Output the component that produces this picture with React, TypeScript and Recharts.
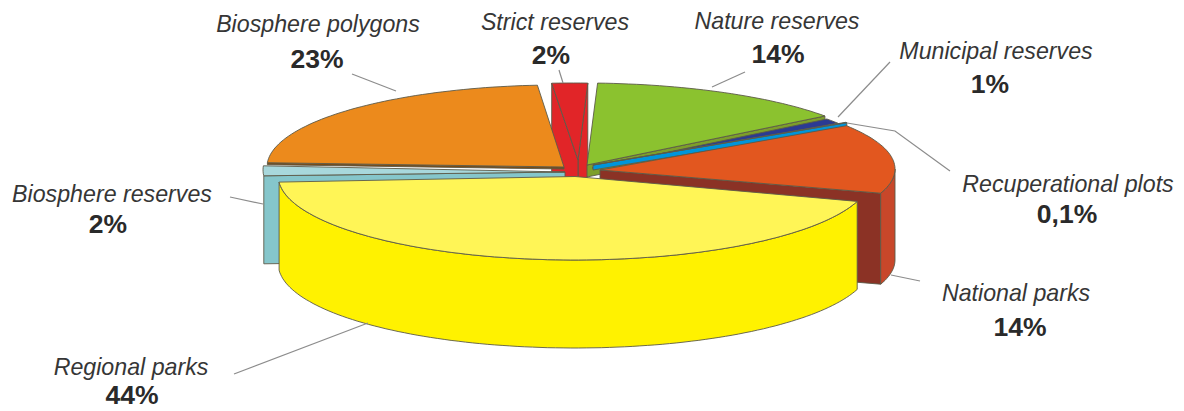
import React from "react";
import { PieChart, Pie } from "recharts";

const sliceNames = ["National parks", "Recuperational plots", "Municipal reserves", "Nature reserves", "Strict reserves", "Biosphere polygons", "Biosphere reserves", "Regional parks"];
const sliceValues = [14, 0.1, 1, 14, 2, 23, 2, 44];
const valueLabels = ["14%", "0,1%", "1%", "14%", "2%", "23%", "2%", "44%"];

const rows = sliceNames.map((name, i) => ({ name, value: sliceValues[i], text: valueLabels[i] }));

const W = 1184;
const H = 411;
const FIRST_ANGLE = -17.6;
const paintOrder = ["Strict reserves", "Biosphere polygons", "Biosphere reserves", "Nature reserves", "Municipal reserves", "Recuperational plots", "National parks", "Regional parks"];
const EDGE = "#5c5a48";

type Wall = { edge: "start" | "end"; depth: number; fill: string };
type Look = { cx: number; cy: number; rx: number; ry: number; ax: number; ay: number; top: string; walls: Wall[]; arcDepth?: number; arcFill?: string };

const looks: Record<string, Look> = {
  "National parks": { cx: 590, cy: 169, rx: 305, ry: 80, ax: 600, ay: 170, top: "#e2571f", walls: [{ edge: "start", depth: 91, fill: "#8b3225" }], arcDepth: 91, arcFill: "#c8472a" },
  "Recuperational plots": { cx: 592, cy: 166, rx: 303, ry: 80, ax: 593, ay: 165, top: "#0095da", walls: [{ edge: "start", depth: 5, fill: "#0095da" }] },
  "Municipal reserves": { cx: 584, cy: 168, rx: 303, ry: 82, ax: 592, ay: 168, top: "#2b3a93", walls: [] },
  "Nature reserves": { cx: 582, cy: 165, rx: 303, ry: 82, ax: 587, ay: 165, top: "#8bc22f", walls: [{ edge: "start", depth: 12, fill: "#7d9f2a" }] },
  "Strict reserves": { cx: 573, cy: 163, rx: 288, ry: 80, ax: 578, ay: 160, top: "#e12528", walls: [{ edge: "start", depth: 90, fill: "#e12528" }, { edge: "end", depth: 90, fill: "#e12528" }] },
  "Biosphere polygons": { cx: 559, cy: 167, rx: 292, ry: 82, ax: 564, ay: 167, top: "#ec8a1c", walls: [{ edge: "end", depth: 2, fill: "#7a4a14" }] },
  "Biosphere reserves": { cx: 563, cy: 170, rx: 300, ry: 80, ax: 565, ay: 172, top: "#a8d8dc", walls: [{ edge: "end", depth: 88, fill: "#85c6cb" }] },
  "Regional parks": { cx: 574.7, cy: 176, rx: 296.4, ry: 84, ax: 575, ay: 176.5, top: "#fff556", walls: [], arcDepth: 88, arcFill: "#fff200" },
};

type Caption = { nameX: number; nameY: number; valueX: number; valueY: number; line: number[][] };
const captions: Record<string, Caption> = {
  "Biosphere polygons": { nameX: 318, nameY: 32, valueX: 317, valueY: 68, line: [[352, 74], [396, 91]] },
  "Strict reserves": { nameX: 555, nameY: 30, valueX: 551, valueY: 64, line: [[559, 70], [563, 83]] },
  "Nature reserves": { nameX: 777, nameY: 29, valueX: 778, valueY: 63, line: [[745, 72], [712, 87]] },
  "Municipal reserves": { nameX: 996, nameY: 59, valueX: 990, valueY: 93, line: [[890, 62], [838, 117]] },
  "Recuperational plots": { nameX: 1068, nameY: 192, valueX: 1067, valueY: 223, line: [[847, 123], [895, 131], [950, 171]] },
  "National parks": { nameX: 1016, nameY: 301, valueX: 1020, valueY: 336, line: [[891, 275], [920, 281]] },
  "Biosphere reserves": { nameX: 112, nameY: 202, valueX: 108, valueY: 233, line: [[230, 197], [263, 204]] },
  "Regional parks": { nameX: 131, nameY: 375, valueX: 132, valueY: 404, line: [[234, 374], [368, 323]] },
};

const rim = (k: Look, deg: number): [number, number] => {
  const t = (deg * Math.PI) / 180;
  return [k.cx + k.rx * Math.cos(t), k.cy - k.ry * Math.sin(t)];
};
const poly = (pts: number[][]) => "M" + pts.map((p) => `${p[0].toFixed(1)},${p[1].toFixed(1)}`).join("L") + "Z";

const arcPoints = (k: Look, a: number, b: number) => {
  const n = Math.max(2, Math.ceil(Math.abs(b - a) / 1.5));
  const out: number[][] = [];
  for (let i = 0; i <= n; i++) out.push(rim(k, a + ((b - a) * i) / n));
  return out;
};

const SliceShape = (only: string) => (props: any) => {
  const name = props.name ?? props.payload?.name;
  if (name !== only) return <g />;
  const k = looks[name];
  const a = Math.min(props.startAngle, props.endAngle);
  const b = Math.max(props.startAngle, props.endAngle);
  const parts: React.ReactNode[] = [];
  k.walls.forEach((w, i) => {
    const p = rim(k, w.edge === "start" ? a : b);
    parts.push(
      <path key={"w" + i} d={poly([[k.ax, k.ay], p, [p[0], p[1] + w.depth], [k.ax, k.ay + w.depth]])} fill={w.fill} stroke={EDGE} strokeWidth={0.9} />
    );
  });
  if (k.arcDepth) {
    const lo = a < 0 ? a : Math.max(a, 180);
    const hi = a < 0 ? Math.min(b, 0) : Math.min(b, 360);
    if (hi > lo) {
      const upper = arcPoints(k, lo, hi);
      const lower = upper.map((p) => [p[0], p[1] + (k.arcDepth as number)]).reverse();
      parts.push(<path key="arc" d={poly([...upper, ...lower])} fill={k.arcFill} stroke={EDGE} strokeWidth={0.9} />);
    }
  }
  parts.push(
    <path key="top" d={poly([[k.ax, k.ay], ...arcPoints(k, a, b)])} fill={k.top} stroke={EDGE} strokeWidth={0.9} strokeLinejoin="round" />
  );
  return <g>{parts}</g>;
};

const renderCaption = (props: any) => {
  const name = props.name ?? props.payload?.name;
  const c = captions[name];
  const text = props.text ?? props.payload?.text;
  return (
    <g key={name}>
      <polyline points={c.line.map((p) => p.join(",")).join(" ")} fill="none" stroke="#8c8c8c" strokeWidth={1.2} />
      <text x={c.nameX} y={c.nameY} textAnchor="middle" fontFamily="Liberation Sans" fontStyle="italic" fontSize={23.2} fill="#363636">{name}</text>
      <text x={c.valueX} y={c.valueY} textAnchor="middle" fontFamily="Liberation Sans" fontWeight="bold" fontSize={26.5} fill="#2a2a2a">{text}</text>
    </g>
  );
};

export default function App() {
  return (
    <div style={{ position: "absolute", left: 0, top: 0, width: W, height: H, background: "#fff" }}>
      <PieChart width={W} height={H} margin={{ top: 0, right: 0, bottom: 0, left: 0 }}>
        {paintOrder.map((name, i) => {
          const shape = SliceShape(name);
          const last = i === paintOrder.length - 1;
          return (
            <Pie
              key={name}
              data={rows}
              dataKey="value"
              nameKey="name"
              cx={570}
              cy={176}
              outerRadius={150}
              startAngle={FIRST_ANGLE}
              endAngle={FIRST_ANGLE + 360}
              isAnimationActive={false}
              shape={shape}
              activeShape={shape}
              inactiveShape={shape}
              stroke="none"
              label={last ? renderCaption : false}
              labelLine={false}
            />
          );
        })}
      </PieChart>
    </div>
  );
}
